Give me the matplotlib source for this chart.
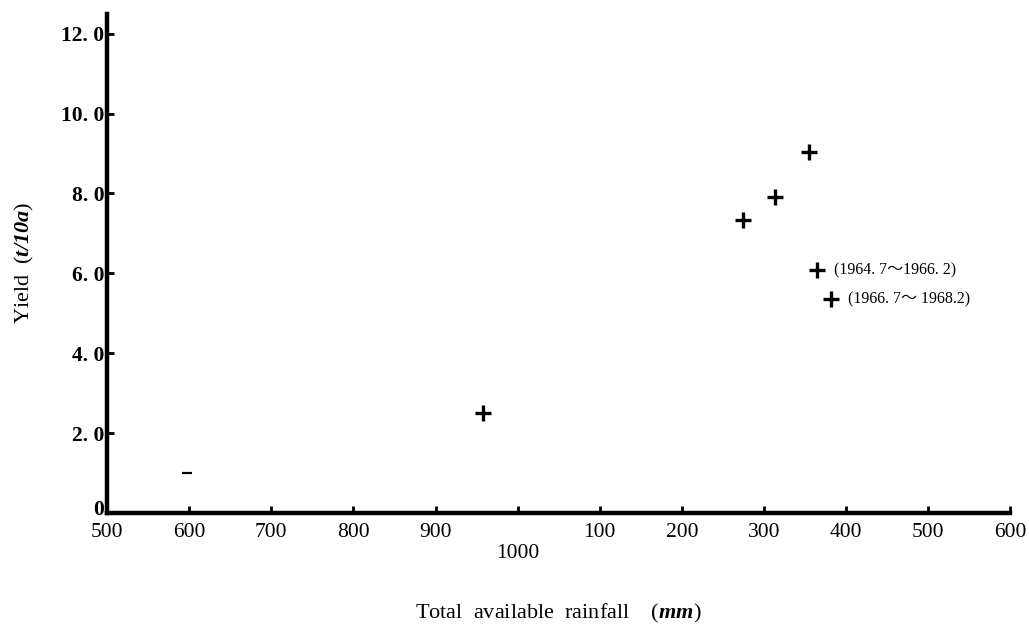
import matplotlib
matplotlib.use("Agg")
import matplotlib.pyplot as plt
import matplotlib.transforms as mtransforms

# =========================
# Data
# =========================

rain = [597, 958, 1274, 1313, 1355, 1365, 1382]
yield_t = [1.0, 2.5, 7.33, 7.9, 9.05, 6.08, 5.35]
is_dash = [True, False, False, False, False, False, False]

note_idx = [5, 6]
note_text = ["(1964. 7～1966. 2)", "(1966. 7～ 1968.2)"]

x_ticks = [500, 600, 700, 800, 900, 1000, 1100, 1200, 1300, 1400, 1500, 1600]
x_labels = ["500", "600", "700", "800", "900", "\n1000",
            "100", "200", "300", "400", "500", "600"]
y_ticks = [0, 2, 4, 6, 8, 10, 12]
y_labels = ["0", "2. 0", "4. 0", "6. 0", "8. 0", "10. 0", "12. 0"]

# =========================
# Style
# =========================

plt.rcParams["font.family"] = ["Liberation Serif", "Noto Sans CJK JP"]
plt.rcParams["mathtext.fontset"] = "custom"
plt.rcParams["mathtext.it"] = "Liberation Serif:italic:bold"
plt.rcParams["mathtext.rm"] = "Liberation Serif:italic:bold"

fig = plt.figure(figsize=(10.29, 6.24), dpi=100)
ax = fig.add_axes([0.104, 0.178, 0.878, 0.80])

# =========================
# Points
# =========================

for x, y, d in zip(rain, yield_t, is_dash):
    if d:
        ax.plot(x, y, marker="_", color="black", markersize=7, mew=1.6)
    else:
        ax.plot(x, y, marker="+", color="black", markersize=12, mew=2.4)

for i, t in zip(note_idx, note_text):
    ax.annotate(t, (rain[i], yield_t[i]), xytext=(12, 0),
                textcoords="offset points", va="center", ha="left",
                fontsize=11.5)

# =========================
# Axes
# =========================

ax.set_xlim(500, 1600)
ax.set_ylim(0, 12.5)

for s in ["top", "right"]:
    ax.spines[s].set_visible(False)
for s in ["left", "bottom"]:
    ax.spines[s].set_linewidth(3.2)

ax.set_xticks(x_ticks)
ax.set_xticklabels(x_labels, fontsize=15.5)
ax.set_yticks(y_ticks)
ax.set_yticklabels(y_labels, fontsize=15.5, fontweight="bold")
ax.tick_params(axis="both", direction="in", length=5, width=2)
ax.tick_params(axis="x", pad=7)
ax.tick_params(axis="y", pad=2)

# lift the "0" a little so it clears the "500"
zero = ax.get_yticklabels()[0]
zero.set_transform(zero.get_transform() +
                   mtransforms.ScaledTranslation(0, 4 / 72, fig.dpi_scale_trans))

ax.set_xlabel("Total  available  rainfall    ($mm$)", fontsize=16, labelpad=28)
ax.set_ylabel("Yield  ($t/10a$)", fontsize=16, labelpad=18)

fig.savefig("out.png", dpi=100)
